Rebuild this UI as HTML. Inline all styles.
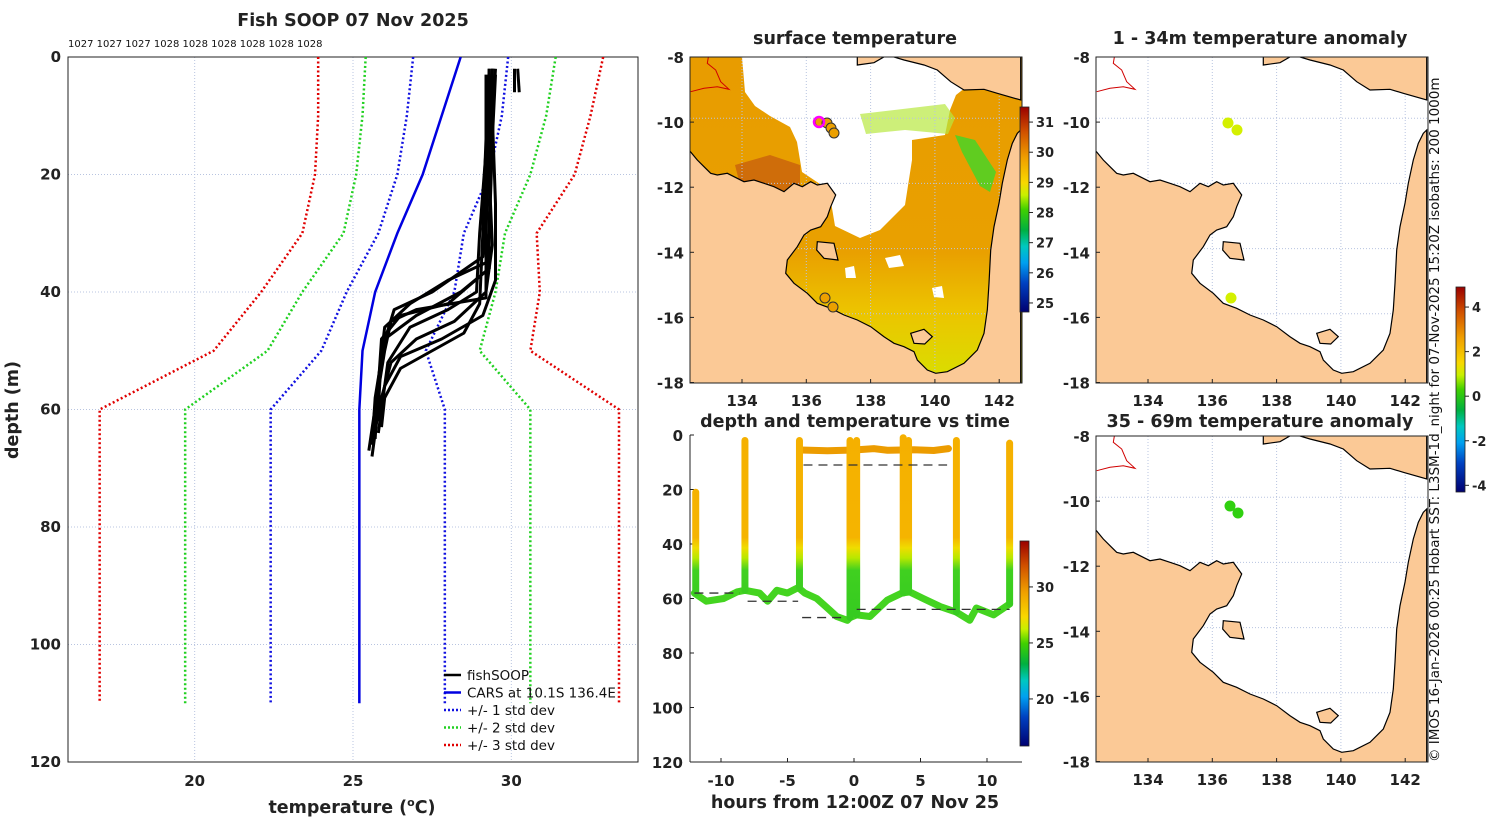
<!DOCTYPE html>
<html><head><meta charset="utf-8"><title>Fish SOOP 07 Nov 2025</title>
<style>
html,body{margin:0;padding:0;background:#fff;}
svg{display:block;font-family:"DejaVu Sans","Liberation Sans",sans-serif;}
.t{font-weight:bold;font-size:17.5px;fill:#222;}
.tk{font-weight:bold;font-size:15px;fill:#222;}
.lg{font-size:13.5px;fill:#111;}
</style></head>
<body>
<svg id="fig" width="1500" height="820" viewBox="0 0 1500 820" xmlns="http://www.w3.org/2000/svg">
<defs>
<linearGradient id="cmap" x1="0" y1="0" x2="0" y2="1">
<stop offset="0" stop-color="#9a0000"/><stop offset="0.12" stop-color="#d05000"/>
<stop offset="0.25" stop-color="#f0a000"/><stop offset="0.37" stop-color="#f8d800"/>
<stop offset="0.43" stop-color="#c8f000"/><stop offset="0.5" stop-color="#40d000"/>
<stop offset="0.6" stop-color="#00b040"/><stop offset="0.68" stop-color="#00c8c0"/>
<stop offset="0.76" stop-color="#00a0f0"/><stop offset="0.86" stop-color="#0040c0"/>
<stop offset="1" stop-color="#000070"/>
</linearGradient>
<linearGradient id="castg" gradientUnits="userSpaceOnUse" x1="0" y1="435" x2="0" y2="640">
<stop offset="0" stop-color="#f5b000"/><stop offset="0.5" stop-color="#f5b400"/>
<stop offset="0.55" stop-color="#f0dc00"/><stop offset="0.6" stop-color="#b8e800"/>
<stop offset="0.66" stop-color="#40d020"/><stop offset="1" stop-color="#30c820"/>
</linearGradient>
<linearGradient id="seag" x1="0" y1="0" x2="0" y2="1">
<stop offset="0" stop-color="#e89c00"/><stop offset="0.6" stop-color="#e9a000"/>
<stop offset="0.78" stop-color="#ecc400"/><stop offset="1" stop-color="#d8e000"/>
</linearGradient>
<clipPath id="clipMain"><rect x="68" y="57" width="570" height="705"/></clipPath>
</defs>
<g id="main"></g>
<g id="maps"></g>
<g id="dt"></g>
<text class="t" x="353" y="26" text-anchor="middle" font-size="18">Fish SOOP 07 Nov 2025</text>
<text x="68" y="47" font-size="10" fill="#111">1027 1027 1027 1028 1028 1028 1028 1028 1028</text>
<text class="t" x="855" y="44" text-anchor="middle">surface temperature</text>
<text class="t" x="1260" y="44" text-anchor="middle">1 - 34m temperature anomaly</text>
<text class="t" x="855" y="427" text-anchor="middle">depth and temperature vs time</text>
<text class="t" x="1260" y="427" text-anchor="middle">35 - 69m temperature anomaly</text>
<text x="1439" y="762" font-size="13.5" fill="#111" transform="rotate(-90 1439 762)">© IMOS 16-Jan-2026 00:25 Hobart SST: L3SM-1d_night for 07-Nov-2025 15:20Z isobaths: 200  1000m</text>
</svg>
<script>
// ---------- profile panel data ----------
const depthLevels=[0,10,20,30,40,50,60,110];
const carsMean=[28.4,27.8,27.2,26.4,25.7,25.3,25.2,25.2];
const plus1=[29.9,29.7,29.3,28.5,28.2,27.3,27.9,27.9];
const minus1=[26.9,26.7,26.4,25.8,24.8,24.0,22.4,22.4];
const plus2=[31.4,31.1,30.6,29.8,29.5,29.0,30.6,30.6];
const minus2=[25.4,25.3,25.1,24.7,23.4,22.3,19.7,19.7];
const plus3=[32.9,32.5,32.0,30.8,30.9,30.6,33.4,33.4];
const minus3=[23.9,23.9,23.8,23.4,22.1,20.6,17.0,17.0];
const fishProfiles=[
[[29.4,2],[29.4,15],[29.3,30],[29.2,35],[28.0,38],[26.8,42],[26.0,46],[25.8,55],[25.7,65]],
[[29.3,2],[29.3,12],[29.2,25],[29.1,34],[27.5,40],[26.3,43],[25.9,50],[25.8,60],[25.6,68]],
[[29.5,3],[29.4,14],[29.3,28],[29.3,36],[28.4,40],[27.0,44],[26.0,48],[25.7,58],[25.6,66]],
[[29.2,3],[29.2,16],[29.0,30],[28.9,40],[28.0,43],[26.8,46],[26.1,52],[25.9,60],[25.8,64]],
[[29.4,2],[29.3,20],[29.4,32],[29.2,40],[28.2,45],[27.0,48],[26.2,52],[25.9,58],[25.7,62]],
[[29.3,2],[29.2,18],[29.1,30],[29.0,42],[28.5,47],[27.5,50],[26.5,53],[26.0,58],[25.9,63]],
[[29.5,2],[29.4,10],[29.5,25],[29.5,38],[29.1,44],[27.8,48],[26.5,51],[26.0,56],[25.8,62]],
[[29.3,3],[29.2,14],[29.1,28],[29.3,36],[28.0,42],[26.5,44],[25.9,48],[25.8,56],[25.5,67]],
[[29.4,2],[29.3,15],[29.2,30],[29.2,41],[27.0,43],[26.2,45],[26.0,50],[25.7,60],[25.6,65]],
[[30.1,2],[30.1,6]],[[30.2,2],[30.25,6]]
];
const tempTicks=[20,25,30];
const depthTicks=[0,20,40,60,80,100,120];
// ---------- depth-time data ----------
const bottomHours=[-12.0,-11.1,-9.8,-8.8,-8.2,-7.1,-6.5,-5.8,-5.0,-4.2,-3.7,-2.8,-2.0,-1.3,-0.5,-0.3,0.2,1.2,2.5,3.6,4.2,5.2,6.5,7.7,8.7,9.2,10.5,11.4,11.7];
const bottomDepths=[58,61,60,57.6,57,58,61,57,58,56,58,60,63.5,66.6,68,67,66,66.6,60.6,58,57.6,60,63,65,68,63.5,66,63,62];
const castHours=[-11.9,-8.2,-4.1,-0.3,0.2,3.7,4.1,7.7,11.7];
const castTops=[21,2,2,2,2,1,2,2,3];
const castBottoms=[58,57,56,67,66,58,57.6,65,62];
const surfHours=[-4.0,-2,0,1.5,2.5,4.5,6,7.1];
const surfDepths=[5.5,5.8,5.5,5.0,5.6,5.4,5.7,5.0];
const dashStart=[-12,-8.0,-3.9,-3.8,0.2];
const dashEnd=[-8.6,-4.2,-0.8,7.0,11.7];
const dashDepth=[58,61,67,11,64];
const hourTicks=[-10,-5,0,5,10];
const dtDepthTicks=[0,20,40,60,80,100,120];
// ---------- map data ----------
const sstTicks=[31,30,29,28,27,26,25];
const anomTicks=[4,2,0,-2,-4];
const lonTicks=[134,136,138,140,142];
const latTicks=[-8,-10,-12,-14,-16,-18];
const shipDotsSST=[[130,65],[137,66],[141,71],[144,76],[135,241],[143,250]];
const anom1Dots=[[132,66],[141,73],[135,241]];
const anom2Dots=[[134,70],[142,77]];

const NS="http://www.w3.org/2000/svg";
function mk(tag,attrs,parent){const e=document.createElementNS(NS,tag);for(const k in attrs)e.setAttribute(k,attrs[k]);parent.appendChild(e);return e;}
function txt(s,attrs,parent){const e=mk('text',attrs,parent);e.textContent=s;return e;}

// ===== main profile panel =====
const gm=document.getElementById('main');
const X0=68,X1=638,Y0=57,Y1=762,TMIN=16,TMAX=34,DMAX=120;
const xT=t=>X0+(t-TMIN)/(TMAX-TMIN)*(X1-X0);
const yD=d=>Y0+d/DMAX*(Y1-Y0);
tempTicks.forEach(t=>{const l=mk('line',{x1:xT(t),x2:xT(t),y1:Y0,y2:Y1,stroke:'#b8c4e0','stroke-width':1,'stroke-dasharray':'1,2'},gm);

const tl=txt(String(t),{x:xT(t),y:786,'text-anchor':'middle',class:'tk'},gm);
});
depthTicks.forEach(d=>{if(d>0&&d<120){const l=mk('line',{x1:X0,x2:X1,y1:yD(d),y2:yD(d),stroke:'#b8c4e0','stroke-width':1,'stroke-dasharray':'1,2'},gm);
}
const tl=txt(String(d),{x:61,y:yD(d)+5,'text-anchor':'end',class:'tk'},gm);
});
const frame=mk('rect',{x:X0,y:Y0,width:X1-X0,height:Y1-Y0,fill:'none',stroke:'#222','stroke-width':1},gm);

const cg=mk('g',{'clip-path':'url(#clipMain)'},gm);
function profLine(vals,color,dash,w,name){
 const pts=vals.map((t,i)=>xT(t)+','+yD(depthLevels[i])).join(' ');
 const p=mk('polyline',{points:pts,fill:'none',stroke:color,'stroke-width':w,'stroke-dasharray':dash},cg);
 }
profLine(plus3,'#e00000','2,2.5',2.5,'plus3-std-line');
profLine(minus3,'#e00000','2,2.5',2.5,'minus3-std-line');
profLine(plus2,'#20d020','2,2.5',2.5,'plus2-std-line');
profLine(minus2,'#20d020','2,2.5',2.5,'minus2-std-line');
profLine(plus1,'#1010e0','2,2.5',2.5,'plus1-std-line');
profLine(minus1,'#1010e0','2,2.5',2.5,'minus1-std-line');
profLine(carsMean,'#0000e0','none',2.5,'cars-mean-line');
fishProfiles.forEach((pr,i)=>{const pts=pr.map(p=>xT(p[0])+','+yD(p[1])).join(' ');
 const p=mk('polyline',{points:pts,fill:'none',stroke:'#000','stroke-width':3,'stroke-linejoin':'round'},cg);
 });
const lgItems=[['fishSOOP','#000','none'],['CARS at 10.1S 136.4E','#0000e0','none'],['+/- 1 std dev','#1010e0','2,2'],['+/- 2 std dev','#20d020','2,2'],['+/- 3 std dev','#e00000','2,2']];
lgItems.forEach((it,i)=>{const y=675+i*17.5;
 const g=mk('g',{},gm);
 mk('line',{x1:444,x2:461,y1:y,y2:y,stroke:it[1],'stroke-width':2.5,'stroke-dasharray':it[2]},g);
 txt(it[0],{x:467,y:y+5,class:'lg'},g);});
const yt=txt('depth (m)',{x:18,y:410,'text-anchor':'middle',class:'t',transform:'rotate(-90 18 410)'},gm);

const xt=mk('text',{x:352,y:813,'text-anchor':'middle',class:'t'},gm);

xt.innerHTML='temperature (<tspan dy="-7" font-size="11">o</tspan><tspan dy="7">C)</tspan>';

// ===== maps =====
const gmap=document.getElementById('maps');
const ausCoast=[[15,300],[40,330],[60,350],[80,370],[100,375],[130,370],[150,380],[180,395],[210,390],[240,400],[270,410],[300,425],[330,400],[355,410],[380,395],[400,405],[430,400],[455,435],[440,470],[430,500],[410,530],[380,540],[360,555],[340,590],[310,630],[305,670],[330,700],[370,730],[400,760],[440,775],[480,795],[520,810],[560,830],[600,860],[630,880],[660,890],[690,905],[700,930],[730,960],[755,970],[790,965],[840,940],[880,900],[900,850],[910,780],[915,700],[920,600],[930,530],[945,460],[955,400],[970,330],[985,280],[1000,250],[1010,240],[1010,1000],[15,1000]];
const ngCoast=[[520,0],[520,45],[570,38],[610,15],[660,30],[720,45],[760,60],[800,95],[840,120],[900,118],[940,130],[1010,150],[1010,0]];
const grooteIs=[[400,575],[450,580],[462,630],[420,625],[398,600]];
const mornIs=[[680,850],[720,838],[745,860],[722,882],[690,880]];
const timorLine=[[20,125],[60,115],[100,110],[135,118],[110,95],[95,60],[70,40],[75,10]];
// SST overlay shapes, absolute pixel coordinates
const cloudAbs=[[742,57],[1000,57],[975,80],[956,95],[950,110],[945,135],[912,140],[912,160],[905,205],[880,230],[860,238],[835,226],[830,196],[820,184],[802,172],[797,142],[790,127],[770,116],[755,106],[745,92]];
const greenBandAbs=[[860,114],[945,104],[955,118],[948,134],[905,130],[866,134]];
const greenStripAbs=[[955,135],[975,140],[996,172],[990,192],[980,186],[962,152]];
const redPatchAbs=[[735,165],[770,155],[800,165],[800,190],[770,193],[740,185]];
const whiteHolesAbs=[[[885,258],[900,255],[904,266],[889,268]],[[845,268],[854,266],[856,278],[846,278]],[[932,288],[942,286],[944,298],[934,297]]];
const P=(pts,ox,oy)=>pts.map(p=>(ox+p[0]/3-6).toFixed(1)+','+(oy+p[1]/3-7).toFixed(1)).join(' ');
const PA=pts=>pts.map(p=>p[0]+','+p[1]).join(' ');
function drawMap(ox,oy,type,name){
 const W=332,H=326;
 const g=mk('g',{},gmap);
 const cid='clip'+name;const cp=mk('clipPath',{id:cid},g);mk('rect',{x:ox,y:oy,width:W,height:H},cp);
 const inner=mk('g',{'clip-path':'url(#'+cid+')'},g);
 mk('rect',{x:ox,y:oy,width:W,height:H,fill:type==='sst'?'url(#seag)':'#fff'},inner);
 if(type==='sst'){
  mk('polygon',{points:PA(redPatchAbs),fill:'#c8600c',opacity:0.8},inner);
  mk('polygon',{points:PA(greenStripAbs),fill:'#60cc20'},inner);
  mk('polygon',{points:PA(cloudAbs),fill:'#ffffff'},inner);
  mk('polygon',{points:PA(greenBandAbs),fill:'#b8e840',opacity:0.7},inner);
  whiteHolesAbs.forEach(h=>mk('polygon',{points:PA(h),fill:'#ffffff'},inner));
 }
 lonTicks.forEach((l,i)=>{const x=ox+52+i*64.3;
  mk('line',{x1:x,x2:x,y1:oy,y2:oy+H,stroke:'#b8c4e0','stroke-dasharray':'1,2'},inner);});
 [1,2,3,4].forEach(i=>{const y=oy+(i)*65.2-4;
  mk('line',{x1:ox,x2:ox+W,y1:y,y2:y,stroke:'#b8c4e0','stroke-dasharray':'1,2'},inner);});
 [ausCoast,ngCoast,grooteIs,mornIs].forEach((c,k)=>{
  const lp=mk('polygon',{points:P(c,ox,oy),fill:'#fbc996',stroke:'#000','stroke-width':1.2},inner);
  });
 mk('polyline',{points:P(timorLine,ox,oy),fill:'none',stroke:'#d00000','stroke-width':1},inner);
 mk('rect',{x:ox,y:oy,width:W,height:H,fill:'none',stroke:'#222','stroke-width':1},g);
 lonTicks.forEach((l,i)=>{const x=ox+52+i*64.3;
  mk('line',{x1:x,x2:x,y1:oy+H,y2:oy+H-4,stroke:'#222'},g);
  const t=txt(String(l),{x:x,y:oy+H+23,'text-anchor':'middle',class:'tk'},g);
  });
 latTicks.forEach((l,i)=>{const y=oy+i*65.1;
  mk('line',{x1:ox,x2:ox+4,y1:y,y2:y,stroke:'#222'},g);
  const t=txt(String(l),{x:ox-6,y:y+6,'text-anchor':'end',class:'tk'},g);
  });
 return g;}
const m1=drawMap(690,57,'sst','sst-map');
const m2=drawMap(1096,57,'anom','anomaly-map-1');
const m3=drawMap(1096,436,'anom','anomaly-map-2');
shipDotsSST.forEach((d,i)=>{const c=mk('circle',{cx:690+d[0],cy:57+d[1],r:5,fill:'#eca000',stroke:'#333','stroke-width':1},m1);
 });
const mag=mk('circle',{cx:690+shipDotsSST[0][0]-1,cy:57+shipDotsSST[0][1],r:5,fill:'none',stroke:'#ff00ff','stroke-width':2.5},m1);

anom1Dots.forEach(d=>{const c=mk('circle',{cx:1096+d[0],cy:57+d[1],r:5.5,fill:'#d4f000'},m2);
 });
anom2Dots.forEach(d=>{const c=mk('circle',{cx:1096+d[0],cy:436+d[1],r:5.5,fill:'#30d010'},m3);
 });
function colorbar(x,y0,y1,vmin,vmax,ticks,name){
 const g=mk('g',{},gmap);
 mk('rect',{x:x,y:y0,width:9,height:y1-y0,fill:'url(#cmap)',stroke:'#222','stroke-width':0.8},g);
 ticks.forEach(v=>{const y=y0+(vmax-v)/(vmax-vmin)*(y1-y0);
  mk('line',{x1:x+9,x2:x+13,y1:y,y2:y,stroke:'#222'},g);
  const t=txt(String(v),{x:x+16,y:y+5,'font-size':13,'font-weight':'bold',fill:'#222'},g);
  });}
colorbar(1020,107,312,24.7,31.5,sstTicks,'sst-colorbar');
colorbar(1456,287,492,-4.3,4.9,anomTicks,'anomaly-colorbar');
colorbar(1020,541,746,15.8,34.1,[30,25,20],'dt-colorbar');

// ===== depth-time panel =====
const gd=document.getElementById('dt');
const DX0=690,DX1=1022,DY0=435,DY1=762;
const xH=h=>854+h*13.3;
const yDd=d=>DY0+d/120*(DY1-DY0);
mk('line',{x1:DX0,x2:DX0,y1:DY0,y2:DY1,stroke:'#222'},gd);
mk('line',{x1:DX0,x2:DX1,y1:DY1,y2:DY1,stroke:'#222'},gd);
dtDepthTicks.forEach(d=>{mk('line',{x1:DX0,x2:DX0+4,y1:yDd(d),y2:yDd(d),stroke:'#222'},gd);
 const t=txt(String(d),{x:683,y:yDd(d)+6,'text-anchor':'end',class:'tk'},gd);
 });
hourTicks.forEach(h=>{mk('line',{x1:xH(h),x2:xH(h),y1:DY1,y2:DY1-4,stroke:'#222'},gd);
 const t=txt(String(h),{x:xH(h),y:786,'text-anchor':'middle',class:'tk'},gd);
 });
const dxt=txt('hours from 12:00Z 07 Nov 25',{x:855,y:808,'text-anchor':'middle',class:'t'},gd);

const bp=mk('polyline',{points:bottomHours.map((h,i)=>xH(h)+','+yDd(bottomDepths[i])).join(' '),fill:'none',stroke:'#44d420','stroke-width':7,'stroke-linejoin':'round','stroke-linecap':'round'},gd);

const sp=mk('polyline',{points:surfHours.map((h,i)=>xH(h)+','+yDd(surfDepths[i])).join(' '),fill:'none',stroke:'#ec9c00','stroke-width':7,'stroke-linecap':'round'},gd);

castHours.forEach((h,i)=>{const l=mk('line',{x1:xH(h),x2:xH(h)+0.01,y1:yDd(castTops[i]),y2:yDd(castBottoms[i]),stroke:'url(#castg)','stroke-width':7,'stroke-linecap':'round'},gd);
 });
dashStart.forEach((h,i)=>{const l=mk('line',{x1:xH(h),x2:xH(dashEnd[i]),y1:yDd(dashDepth[i]),y2:yDd(dashDepth[i]),stroke:'#333','stroke-width':1.3,'stroke-dasharray':'9,6'},gd);
 });
</script>
</body></html>
